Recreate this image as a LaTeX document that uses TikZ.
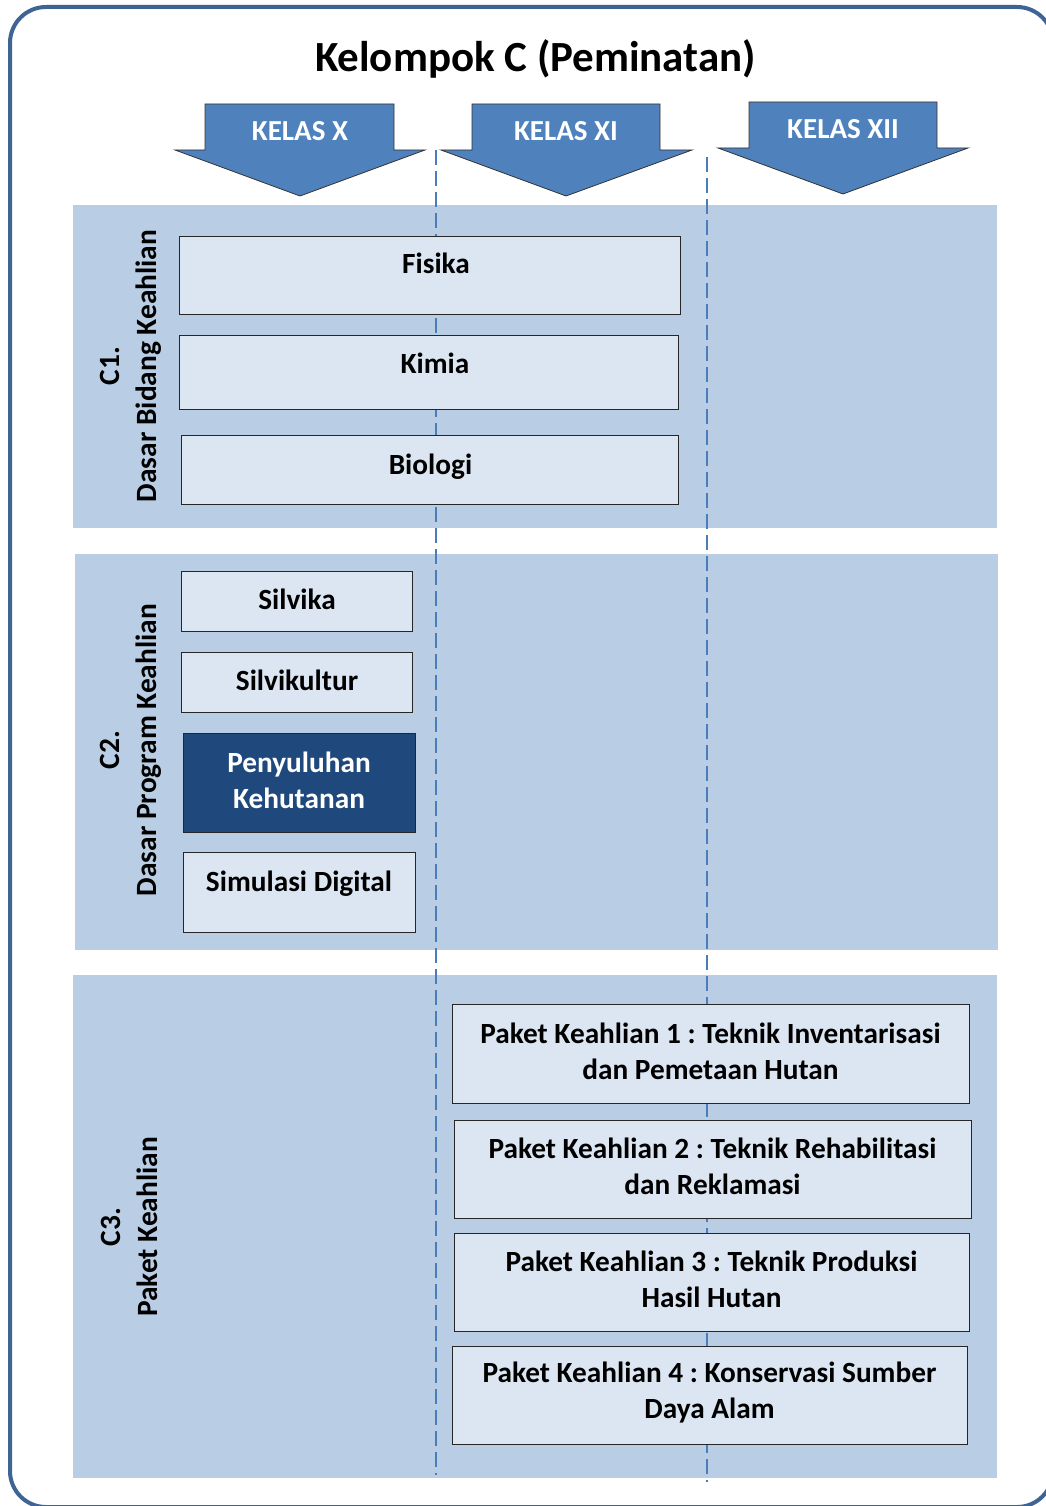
\documentclass[tikz,border=0pt]{standalone}
\usepackage{fontspec}
\setmainfont{Carlito}
\frenchspacing
\definecolor{framec}{HTML}{3E6494}
\definecolor{bandc}{HTML}{B9CDE5}
\definecolor{boxc}{HTML}{DCE6F2}
\definecolor{darkc}{HTML}{1F497D}
\definecolor{arrowc}{HTML}{4F81BD}
\definecolor{linec}{HTML}{4A7EBB}
\begin{document}
\begin{tikzpicture}[x=1pt,y=-1pt,
  band/.style={fill=bandc,draw=none},
  box/.style={draw=black!85,line width=1.2pt,fill=boxc,rectangle,inner sep=0pt,anchor=north west},
  darkbox/.style={box,fill=darkc},
  txt/.style={font=\bfseries\fontsize{29.3}{36}\selectfont,align=center,inner sep=0pt},
  txtone/.style={txt,text height=18.7pt,text depth=0pt},
  lbl/.style={font=\bfseries\fontsize{29.4}{37}\selectfont,align=center,inner sep=0pt,rotate=90},
  kelas/.style={fill=arrowc,draw=black!80,line width=0.8pt},
  kelastxt/.style={txtone,text=white,font=\bfseries\fontsize{29}{32}\selectfont},
  divline/.style={draw=linec,line width=1.8pt,dash pattern=on 15pt off 6pt}
]
\useasboundingbox (0,0) rectangle (1045,1506);
\fill[white] (0,0) rectangle (1045,1506);
% frame
\draw[framec,line width=4pt,rounded corners=36pt] (10,7) rectangle (1053,1507);
% title
\node[txt,text height=27.5pt,text depth=0pt,font=\bfseries\fontsize{43}{48}\selectfont] (title) at (535.5,58) {Kelompok C (Peminatan)};
% arrows
\draw[kelas] (205,104) -- (394,104) -- (394,150) -- (425,150) -- (300,196) -- (175,150) -- (205,150) -- cycle;
\draw[kelas] (472,104) -- (660,104) -- (660,150) -- (692,150) -- (566,196) -- (441,150) -- (472,150) -- cycle;
\draw[kelas] (749,102) -- (937,102) -- (937,148) -- (968,148) -- (843,194) -- (718,148) -- (749,148) -- cycle;
\node[kelastxt] (kx) at (300,131) {KELAS X};
\node[kelastxt] (kxi) at (566,131) {KELAS XI};
\node[kelastxt] (kxii) at (843,129) {KELAS XII};
% bands
\fill[band] (73,205) rectangle (997,528);
\fill[band] (75,554) rectangle (998,950);
\fill[band] (73,975) rectangle (997,1478);
% dashed dividers
\coordinate (d1top) at (436,150);
\coordinate (d1bot) at (436,1475);
\coordinate (d2top) at (707,157);
\coordinate (d2bot) at (707,1482);
\draw[divline] (d1top) -- (d1bot);
\draw[divline] (d2top) -- (d2bot);
% side labels
\node[lbl] (c1) at (131,366) {C1.\\Dasar Bidang Keahlian};
\node[lbl] (c2) at (131,750) {C2.\\Dasar Program Keahlian};
\node[lbl] (c3) at (129,1227) {C3.\\Paket Keahlian};
% C1 boxes
\node[box,minimum width=501pt,minimum height=78pt] (fisika) at (179,236) {};
\node[box,minimum width=499pt,minimum height=74pt] (kimia) at (179,335) {};
\node[box,minimum width=497pt,minimum height=69pt] (biologi) at (181,435) {};
\node[txtone] (fisikaT) at (436,264) {Fisika};
\node[txtone] (kimiaT) at (435,364) {Kimia};
\node[txtone] (biologiT) at (430.5,465) {Biologi};
% C2 boxes
\node[box,minimum width=231pt,minimum height=60pt] (silvika) at (181,571) {};
\node[box,minimum width=231pt,minimum height=60pt] (silvikultur) at (181,652) {};
\node[darkbox,minimum width=232pt,minimum height=99pt] (penyuluhan) at (183,733) {};
\node[box,minimum width=232pt,minimum height=80pt] (simulasi) at (183,852) {};
\node[txtone] (silvikaT) at (297,600) {Silvika};
\node[txtone] (silvikulturT) at (297,681) {Silvikultur};
\node[txt,text=white] (penyuluhanT) at (299,780) {Penyuluhan\\Kehutanan};
\node[txtone] (simulasiT) at (299,882) {Simulasi Digital};
% C3 boxes
\node[box,minimum width=517pt,minimum height=99pt] (pk1) at (452,1004) {};
\node[box,minimum width=517pt,minimum height=98pt] (pk2) at (454,1120) {};
\node[box,minimum width=515pt,minimum height=98pt] (pk3) at (454,1233) {};
\node[box,minimum width=515pt,minimum height=98pt] (pk4) at (452,1346) {};
\node[txt] (pk1T) at (710.5,1051) {Paket Keahlian 1 : Teknik Inventarisasi\\dan Pemetaan Hutan};
\node[txt] (pk2T) at (712.5,1166.5) {Paket Keahlian 2 : Teknik Rehabilitasi\\dan Reklamasi};
\node[txt] (pk3T) at (711.5,1279.5) {Paket Keahlian 3 : Teknik Produksi\\Hasil Hutan};
\node[txt] (pk4T) at (709.5,1393) {Paket Keahlian 4 : Konservasi Sumber\\Daya Alam};
\end{tikzpicture}
\end{document}
